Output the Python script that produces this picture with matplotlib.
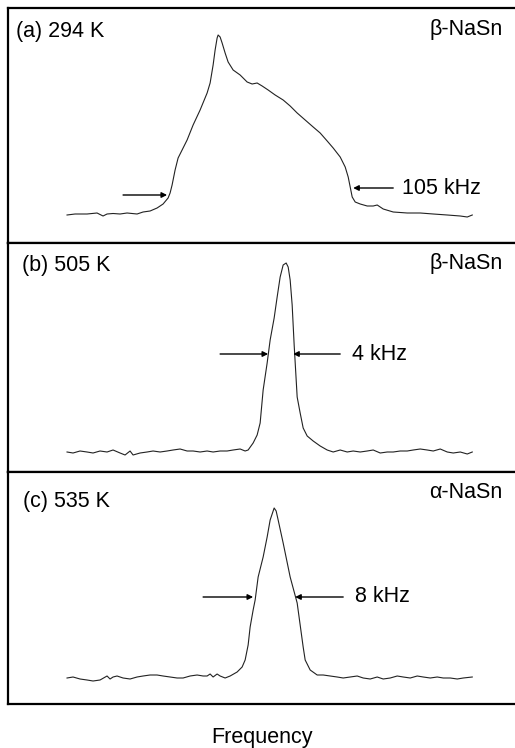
import matplotlib.pyplot as plt

plt.rcParams['font.family'] = ['Liberation Sans', 'DejaVu Sans']

# frequency (arb. units) and intensity (arb. units)
# (a) 294 K, beta-NaSn
freq_a = [67, 75, 87, 97, 103, 107, 113, 120, 127, 137, 143, 150, 157, 163, 168, 170,
          172, 175, 178, 182, 187, 193, 200, 207, 210, 213, 215, 217, 218, 220, 222, 225,
          228, 233, 240, 247, 252, 257, 262, 268, 275, 283, 290, 297, 305, 313, 320, 327,
          333, 340, 345, 348, 350, 352, 355, 360, 367, 373, 377, 383, 393, 407, 420, 433,
          447, 460, 467, 472]
int_a = [28, 29, 29, 30, 27, 29, 29.5, 29, 30, 29, 31, 32, 35, 39, 45, 50,
         58, 73, 85, 93, 103, 118, 133, 150, 160, 178, 193, 205, 208, 206, 200, 190,
         181, 173, 168, 161, 159, 160, 157, 153, 148, 143, 137, 130, 123, 116, 110, 102,
         95, 86, 76, 66, 56, 46, 41, 39, 37, 37, 38, 34, 31, 30, 30, 29,
         28, 27, 26, 28]

# (b) 505 K, beta-NaSn
freq_b = [67, 73, 80, 87, 93, 100, 107, 113, 120, 125, 130, 133, 140, 147, 153, 160,
          167, 173, 180, 187, 193, 200, 207, 213, 220, 227, 233, 240, 245, 248, 253, 257,
          260, 263, 267, 270, 274, 277, 280, 283, 286, 288, 290, 292, 294, 297, 300, 303,
          307, 313, 320, 327, 333, 340, 347, 353, 360, 367, 373, 380, 387, 393, 400, 407,
          413, 420, 427, 433, 440, 447, 453, 460, 467, 472]
int_b = [20, 19, 21, 20, 19, 21, 20, 22, 19, 17, 21, 17, 19, 20, 21, 20,
         21, 22, 23, 21, 21, 20, 21, 20, 21, 21, 22, 23, 21, 22, 29, 37,
         49, 82, 109, 132, 154, 175, 195, 207, 209, 205, 192, 167, 127, 75, 59, 44,
         36, 31, 26, 22, 20, 22, 20, 21, 20, 21, 22, 19, 20, 20, 21, 21,
         22, 23, 22, 21, 23, 20, 19, 20, 18, 20]

# (c) 535 K, alpha-NaSn
freq_c = [67, 73, 80, 87, 93, 100, 107, 110, 113, 117, 123, 130, 137, 143, 150, 157,
          163, 170, 177, 183, 190, 197, 203, 207, 210, 213, 217, 220, 225, 230, 237, 242,
          245, 248, 250, 253, 255, 258, 263, 267, 270, 274, 276, 278, 283, 290, 297, 300,
          303, 305, 310, 317, 323, 330, 337, 343, 350, 357, 363, 370, 377, 383, 390, 397,
          403, 410, 417, 423, 430, 437, 443, 450, 457, 463, 472]
int_c = [26, 27, 25, 24, 23, 24, 28, 25, 27, 28, 26, 25, 27, 28, 29, 29,
         28, 27, 26, 26, 28, 29, 28, 28, 30, 27, 30, 28, 26, 28, 32, 37,
         44, 59, 77, 94, 104, 127, 147, 167, 184, 196, 193, 184, 161, 127, 101, 79,
         57, 44, 34, 29, 29, 28, 27, 26, 27, 28, 26, 25, 27, 25, 26, 28,
         27, 26, 28, 27, 26, 27, 26, 26, 25, 26, 27]

labels = ['(a) 294 K', '(b) 505 K', '(c) 535 K']
phases = ['\u03b2-NaSn', '\u03b2-NaSn', '\u03b1-NaSn']
widths = ['105 kHz', '4 kHz', '8 kHz']

fig = plt.figure(figsize=(5.15, 7.48), dpi=100)

# panel boxes in pixels: (top, bottom)
boxes = [(8, 243), (243, 472), (472, 704)]
H = 748.0
axes = []
for top, bot in boxes:
    ax = fig.add_axes([8 / 515, 1 - bot / H, 1.02, (bot - top) / H])
    ax.set_xlim(8, 533)
    ax.set_ylim(0, bot - top)
    ax.set_xticks([])
    ax.set_yticks([])
    for s in ax.spines.values():
        s.set_linewidth(1.6)
    axes.append(ax)

data = [(freq_a, int_a), (freq_b, int_b), (freq_c, int_c)]
for ax, (f, v) in zip(axes, data):
    ax.plot(f, v, color='#222222', lw=0.8)

fs = 15.5
# labels
lab_x = [16, 22, 23]
lab_y = [211, 207, 202]
ph_y = [213, 209, 211]
for ax, lab, ph, lx, ly, py in zip(axes, labels, phases, lab_x, lab_y, ph_y):
    ax.text(lx, ly, lab, fontsize=fs, va='center', ha='left')
    ax.text(502, py, ph, fontsize=fs, va='center', ha='right')

# width arrows: (left start, left tip, right start, right tip, y left, y right, text x)
arrows = [(123, 167, 393, 353, 48, 55, 402),
          (220, 268, 340, 293, 118, 118, 352),
          (203, 253, 343, 295, 107, 107, 355)]
for ax, w, (l0, l1, r0, r1, yl, yr, tx) in zip(axes, widths, arrows):
    ap = dict(arrowstyle='-|>', color='black', lw=1.0, mutation_scale=8,
              shrinkA=0, shrinkB=0)
    ax.annotate('', xy=(l1, yl), xytext=(l0, yl), arrowprops=ap)
    ax.annotate('', xy=(r1, yr), xytext=(r0, yr), arrowprops=ap)
    ax.text(tx, yr, w, fontsize=fs, va='center', ha='left')

fig.text(262 / 515, 1 - 737 / H, 'Frequency', fontsize=fs, ha='center', va='center')

fig.savefig('out.png', dpi=100)
